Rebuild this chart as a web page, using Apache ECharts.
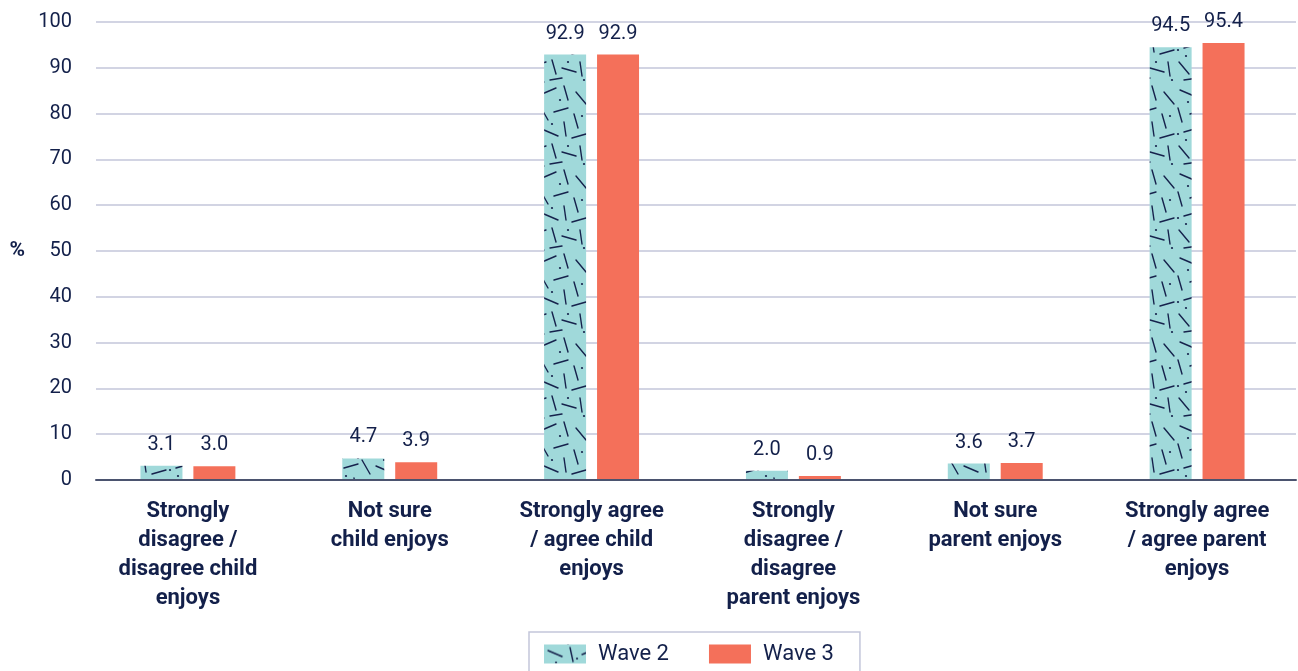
<!DOCTYPE html>
<html>
<head>
<meta charset="utf-8">
<script src="https://cdn.jsdelivr.net/npm/echarts@6/dist/echarts.min.js"></script>
<style>
html,body{margin:0;padding:0;background:#fff;}
#chart{width:1298px;height:671px;}
</style>
</head>
<body>
<div id="chart"></div>
<script>
const categories = [
  'Strongly\ndisagree /\ndisagree child\nenjoys',
  'Not sure\nchild enjoys',
  'Strongly agree\n/ agree child\nenjoys',
  'Strongly\ndisagree /\ndisagree\nparent enjoys',
  'Not sure\nparent enjoys',
  'Strongly agree\n/ agree parent\nenjoys'
];
const seriesNames = ['Wave 2', 'Wave 3'];
const wave2 = [3.1, 4.7, 92.9, 2.0, 3.6, 94.5];
const wave3 = [3.0, 3.9, 92.9, 0.9, 3.7, 95.4];
const yTicks = [0, 10, 20, 30, 40, 50, 60, 70, 80, 90, 100];

const NAVY = '#13204a';
const TEAL = '#a0d9da';
const CORAL = '#f4705a';
const FONT = 'Roboto';

// texture tile for Wave 2 bars (fixed hand-placed strokes)
function makeTile() {
  const S = 84;
  const c = document.createElement('canvas');
  c.width = S; c.height = S;
  const g = c.getContext('2d');
  g.fillStyle = TEAL;
  g.fillRect(0, 0, S, S);
  g.strokeStyle = '#16224c';
  g.lineWidth = 1.4;
  g.lineCap = 'round';
  const segs = [
    [4,6,18,12],[26,3,29,17],[38,10,52,4],[60,2,64,16],[72,8,82,20],
    [2,24,6,38],[14,30,28,26],[36,22,44,36],[50,28,64,24],[70,30,74,44],
    [8,48,22,44],[26,40,34,54],[40,46,54,52],[60,38,62,52],[68,54,82,50],
    [3,62,13,74],[18,58,20,72],[28,66,42,62],[48,60,52,74],[58,68,72,72],
    [8,80,22,78],[30,76,40,82],[46,80,58,78],[76,62,78,76]
  ];
  segs.forEach(s => { g.beginPath(); g.moveTo(s[0], s[1]); g.lineTo(s[2], s[3]); g.stroke(); });
  g.fillStyle = '#16224c';
  const dots = [[12,18],[33,14],[56,16],[78,32],[22,38],[48,40],[10,56],[38,72],[64,62],[80,80],[2,50],[24,84]];
  dots.forEach(d => { g.beginPath(); g.arc(d[0], d[1], 1.1, 0, Math.PI * 2); g.fill(); });
  return c;
}
const tile = makeTile();

const chart = echarts.init(document.getElementById('chart'), null, { renderer: 'canvas' });

const labelCfg = {
  show: true,
  position: 'top',
  distance: 11,
  color: NAVY,
  fontFamily: FONT,
  fontSize: 20,
  formatter: p => Number(p.value).toFixed(1)
};

chart.setOption({
  animation: false,
  textStyle: { fontFamily: FONT, color: NAVY },
  grid: [
    { left: 96, right: 2, top: 22, bottom: 191, containLabel: false },
    { left: 87, width: 1215, top: 22, bottom: 191, containLabel: false }
  ],
  legend: {
    data: seriesNames,
    left: 529,
    top: 632,
    orient: 'horizontal',
    icon: 'rect',
    itemWidth: 42,
    itemHeight: 19,
    itemGap: 40,
    padding: [11, 26, 14, 15],
    borderColor: '#c3c6da',
    borderWidth: 1.5,
    textStyle: { fontFamily: FONT, fontSize: 22, color: NAVY, padding: [0, 0, 0, 7] }
  },
  xAxis: [
    {
      gridIndex: 0,
      type: 'category',
      data: categories,
      z: 10,
      axisLine: { show: true, lineStyle: { color: '#4b536f', width: 2 } },
      axisTick: { show: false },
      axisLabel: { show: false },
      splitLine: { show: false }
    },
    {
      gridIndex: 1,
      type: 'category',
      data: categories,
      axisLine: { show: false },
      axisTick: { show: false },
      axisLabel: {
        show: true,
        interval: 0,
        margin: 17,
        color: NAVY,
        fontFamily: FONT,
        fontSize: 22,
        fontWeight: 'bold',
        lineHeight: 29,
        align: 'center'
      }
    }
  ],
  yAxis: [
    {
      gridIndex: 0,
      type: 'value',
      min: 0,
      max: 100,
      interval: 10,
      name: '%',
      nameLocation: 'middle',
      nameRotate: 0,
      nameGap: 71,
      nameTextStyle: { color: NAVY, fontFamily: FONT, fontSize: 21, fontWeight: 'bold' },
      axisLine: { show: false },
      axisTick: { show: false },
      axisLabel: {
        margin: 24,
        color: NAVY,
        fontFamily: FONT,
        fontSize: 20,
        formatter: v => (yTicks.indexOf(v) >= 0 ? String(v) : '')
      },
      splitLine: { show: true, lineStyle: { color: '#c3c6da', width: 1.5 } }
    },
    {
      gridIndex: 1,
      type: 'value',
      min: 0,
      max: 100,
      interval: 10,
      show: false,
      splitLine: { show: false }
    }
  ],
  series: [
    {
      name: seriesNames[0],
      type: 'bar',
      xAxisIndex: 1,
      yAxisIndex: 1,
      data: wave2,
      barWidth: 42,
      barGap: '26%',
      itemStyle: { color: { image: tile, repeat: 'repeat' } },
      label: labelCfg
    },
    {
      name: seriesNames[1],
      type: 'bar',
      xAxisIndex: 1,
      yAxisIndex: 1,
      data: wave3,
      barWidth: 42,
      barGap: '26%',
      itemStyle: { color: CORAL },
      label: labelCfg
    }
  ]
});
</script>
</body>
</html>
